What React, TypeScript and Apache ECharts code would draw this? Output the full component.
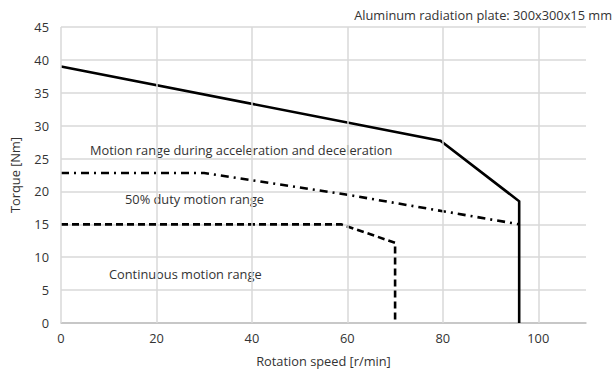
import React, { useEffect, useRef } from "react";
import * as echarts from "echarts";

const accelDecel: [number, number][] = [
  [0, 39],
  [79.5, 27.7],
  [96, 18.5],
  [96, 0],
];
const dutyHalf: [number, number][] = [
  [0, 22.8],
  [30, 22.8],
  [40, 21.7],
  [60, 19.5],
  [80, 17.0],
  [96, 15.0],
];
const continuous: [number, number][] = [
  [0, 15],
  [58.7, 15],
  [70, 12.2],
  [70, 0],
];
const xTicks = [0, 20, 40, 60, 80, 100];

const FONT = "Open Sans";
const FS = 12.8;
const TXT = "#333333";

export default function App() {
  const ref = useRef<HTMLDivElement>(null);
  useEffect(() => {
    if (!ref.current) return;
    const chart = echarts.init(ref.current, undefined, { renderer: "svg" });
    const lineSeries = (name: string, data: [number, number][], type: any) => ({
      name,
      type: "line",
      data,
      symbol: "none",
      lineStyle: { color: "#000", width: 2.6, type, cap: "butt", join: "miter" },
      silent: true,
    });
    chart.setOption({
      animation: false,
      textStyle: { fontFamily: FONT },
      grid: { left: 56, right: 29, top: 27, bottom: 54 },
      xAxis: {
        type: "value",
        min: 0,
        max: 110,
        interval: 20,
        name: "Rotation speed [r/min]",
        nameLocation: "middle",
        nameGap: 31,
        nameTextStyle: { color: TXT, fontSize: FS, fontFamily: FONT },
        axisLine: { show: true, lineStyle: { color: "#bfbfbf", width: 1.5 } },
        axisTick: { show: false },
        axisLabel: {
          color: TXT,
          fontSize: FS,
          fontFamily: FONT,
          margin: 8,
          showMaxLabel: false,
          formatter: (v: number) => (xTicks.includes(v) ? String(v) : ""),
        },
        splitLine: { show: false },
      },
      yAxis: {
        type: "value",
        min: 0,
        max: 45,
        interval: 5,
        name: "Torque [Nm]",
        nameLocation: "middle",
        nameGap: 40,
        nameRotate: 90,
        nameTextStyle: { color: TXT, fontSize: FS, fontFamily: FONT },
        axisLine: { show: false },
        axisTick: { show: false },
        axisLabel: { color: TXT, fontSize: FS, fontFamily: FONT, margin: 12 },
        splitLine: { show: true, lineStyle: { color: "#d9d9d9", width: 1.5 } },
      },
      series: [
        {
          type: "line",
          data: [],
          silent: true,
          markLine: {
            silent: true,
            symbol: "none",
            label: { show: false },
            lineStyle: { color: "#d9d9d9", width: 1.5, type: "solid" },
            data: xTicks.map((x) => ({ xAxis: x })),
          },
          z: 1,
        },
        lineSeries("accel", accelDecel, "solid"),
        lineSeries("duty", dutyHalf, [8, 5, 2, 5]),
        lineSeries("cont", continuous, [7, 4]),
      ],
      graphic: [
        {
          type: "text",
          x: 612,
          y: 15,
          style: {
            text: "Aluminum radiation plate: 300x300x15 mm",
            align: "right",
            verticalAlign: "middle",
            fill: TXT,
            font: `${FS}px '${FONT}'`,
          },
        },
        {
          type: "text",
          x: 90,
          y: 150,
          style: {
            text: "Motion range during acceleration and deceleration",
            verticalAlign: "middle",
            fill: TXT,
            font: `${FS}px '${FONT}'`,
          },
        },
        {
          type: "text",
          x: 125,
          y: 199,
          style: {
            text: "50% duty motion range",
            verticalAlign: "middle",
            fill: TXT,
            font: `${FS}px '${FONT}'`,
          },
        },
        {
          type: "text",
          x: 109,
          y: 274,
          style: {
            text: "Continuous motion range",
            verticalAlign: "middle",
            fill: TXT,
            font: `${FS}px '${FONT}'`,
          },
        },
      ],
    });
    return () => chart.dispose();
  }, []);
  return <div ref={ref} style={{ width: 615, height: 377, position: "absolute", left: 0, top: 0 }} />;
}
